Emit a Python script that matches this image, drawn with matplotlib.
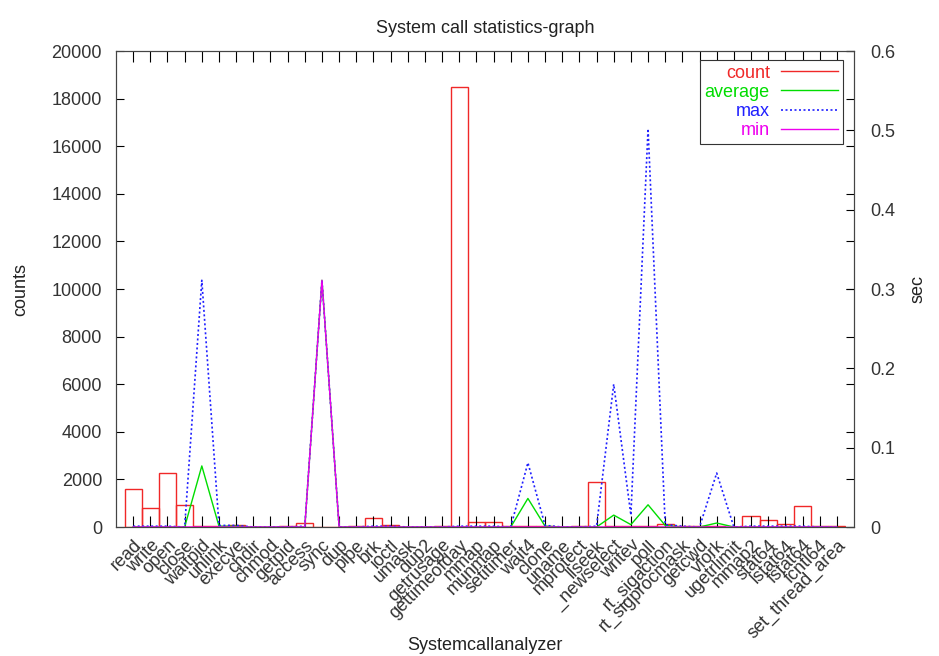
import numpy as np
import matplotlib
matplotlib.use("Agg")
import matplotlib.pyplot as plt
from matplotlib.lines import Line2D

plt.rcParams['font.family'] = ['Liberation Sans', 'DejaVu Sans']

calls = ["read", "write", "open", "close", "waitpid", "unlink", "execve", "chdir",
         "chmod", "getpid", "access", "sync", "dup", "pipe", "brk", "ioctl", "umask",
         "dup2", "getrusage", "gettimeofday", "mmap", "munmap", "setitimer", "wait4",
         "clone", "uname", "mprotect", "llseek", "_newselect", "writev", "poll",
         "rt_sigaction", "rt_sigprocmask", "getcwd", "vfork", "ugetrlimit", "mmap2",
         "stat64", "lstat64", "fstat64", "fcntl64", "set_thread_area"]

count = [1600, 800, 2280, 920, 40, 30, 100, 10, 10, 60, 160, 10, 20, 30, 360, 80, 20,
         20, 50, 18500, 220, 230, 60, 50, 30, 20, 50, 1880, 60, 50, 60, 120, 60, 30,
         30, 20, 450, 280, 110, 890, 30, 50]

average = [0.0, 0.0, 0.0, 0.0, 0.077, 0.001, 0.001, 0.0, 0.0, 0.0, 0.0, 0.311, 0.0,
           0.0, 0.0, 0.0, 0.0, 0.0, 0.0, 0.0, 0.0, 0.0, 0.0, 0.036, 0.001, 0.0, 0.0,
           0.0, 0.015, 0.003, 0.028, 0.002, 0.0, 0.0, 0.005, 0.0, 0.0, 0.0, 0.0, 0.0,
           0.0, 0.0]

maximum = [0.001, 0.001, 0.001, 0.0, 0.311, 0.002, 0.002, 0.0, 0.0, 0.0, 0.001, 0.311,
           0.0, 0.0, 0.001, 0.001, 0.0, 0.0, 0.0, 0.001, 0.001, 0.001, 0.0, 0.081, 0.002,
           0.0, 0.0, 0.001, 0.18, 0.015, 0.502, 0.003, 0.001, 0.0, 0.068, 0.0, 0.001,
           0.001, 0.001, 0.001, 0.0, 0.0]

minimum = [0.0] * 11 + [0.311] + [0.0] * 30

x = np.arange(len(calls))

fig = plt.figure(figsize=(9.39, 6.56), dpi=100)
ax = fig.add_axes([116/939, 1 - 527/656, (854-116)/939, (527-51)/656])
ax2 = ax.twinx()

ax.bar(x, count, width=1.0, fill=False, edgecolor="#f02828", linewidth=1.0)
ax2.plot(x, average, color="#00dd00", lw=1.0)
ax2.plot(x, maximum, color="#2020ff", lw=1.2, ls=(0, (1.2, 1.5)))
ax2.plot(x, minimum, color="#ee00ee", lw=1.0)

ax.set_xlim(-1, 42)
ax.set_ylim(0, 20000)
ax.set_yticks(range(0, 20001, 2000))
ax2.set_ylim(0, 0.6)
ax2.set_yticks(np.arange(0, 0.61, 0.1))
ax2.set_yticklabels(["0", "0.1", "0.2", "0.3", "0.4", "0.5", "0.6"])

ax.set_xticks(x)
ax.set_xticklabels(calls, rotation=45, ha="right", va="top", rotation_mode="anchor",
                   fontsize=13, color="#333333")
ax.tick_params(axis="x", direction="in", top=True, length=8, width=0.8, pad=7)
ax.tick_params(axis="y", direction="in", right=True, length=6, width=0.8, pad=10,
               labelsize=13, labelcolor="#333333")
ax2.tick_params(axis="y", direction="in", length=6, width=0.8, pad=12,
                labelsize=13, labelcolor="#333333")
for a in (ax, ax2):
    for s in a.spines.values():
        s.set_linewidth(0.8)
        s.set_color("#444444")

ax.set_title("System call statistics-graph", fontsize=13, pad=13, color="#222222")
fig.text(485/939, 1 - 645/656, "Systemcallanalyzer", fontsize=13, color="#222222",
         ha="center", va="center")
ax.set_ylabel("counts", fontsize=13, labelpad=16, color="#222222")
ax2.set_ylabel("sec", fontsize=13, labelpad=10, color="#222222")

handles = [Line2D([], [], color="#f02828", lw=1.0),
           Line2D([], [], color="#00dd00", lw=1.0),
           Line2D([], [], color="#2020ff", lw=1.2, ls=(0, (1.2, 1.5))),
           Line2D([], [], color="#ee00ee", lw=1.0)]
leg = ax2.legend(handles, ["count", "average", "max", "min"], loc="upper right",
                 bbox_to_anchor=(0.985, 0.981), borderaxespad=0, markerfirst=False,
                 fancybox=False, framealpha=1, edgecolor="#333333", fontsize=13,
                 handlelength=3.2, labelspacing=0.12, borderpad=0.25, handletextpad=0.6)
leg.get_frame().set_linewidth(0.8)
for t, c in zip(leg.get_texts(), ["#f02828", "#00dd00", "#2020ff", "#ee00ee"]):
    t.set_color(c)
    t.set_ha("right")

fig.savefig("out.png", dpi=100)
